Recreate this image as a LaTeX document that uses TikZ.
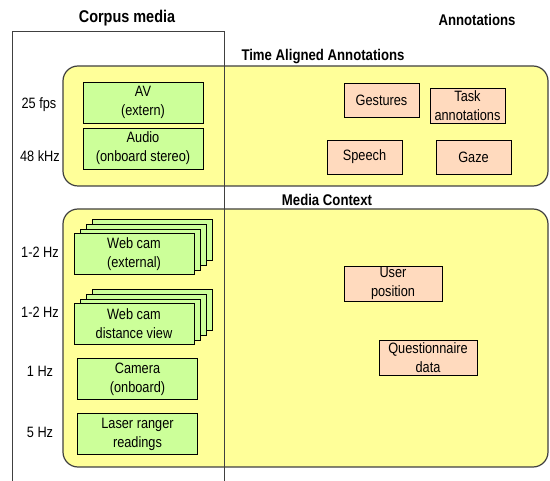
\documentclass[tikz,border=0pt]{standalone}
\usepackage{fontspec}
\setmainfont{Liberation Sans}[FakeStretch=0.85]
\usepackage{tikz}
\usetikzlibrary{positioning,shadows}
\definecolor{ctxyellow}{RGB}{255,255,153}
\definecolor{mediagreen}{RGB}{204,255,153}
\definecolor{annopeach}{RGB}{255,218,190}
\definecolor{framegrey}{RGB}{64,64,64}

\begin{document}
\begin{tikzpicture}[x=1pt,y=-1pt,
    txt/.style={font=\fontsize{15}{19}\selectfont, align=center, inner sep=0pt},
    head/.style={font=\fontsize{15.5}{19}\selectfont\bfseries, inner sep=0pt},
    context/.style={draw=framegrey, line width=1.2pt, fill=ctxyellow, rounded corners=15pt},
    media/.style={txt, draw=black, fill=mediagreen, minimum width=120pt, minimum height=41pt},
    stack/.style={media,
        copy shadow={shadow xshift=18pt, shadow yshift=14pt, draw=black, fill=mediagreen},
        copy shadow={shadow xshift=12pt, shadow yshift=9.3pt, draw=black, fill=mediagreen},
        copy shadow={shadow xshift=6pt, shadow yshift=4.7pt, draw=black, fill=mediagreen}},
    anno/.style={txt, draw=black, fill=annopeach, minimum width=75pt, minimum height=34pt},
]
\useasboundingbox (0,0) rectangle (550,481);
% headings
\node[head, font=\fontsize{17}{19}\selectfont\bfseries] (corpus) at (127,18) {Corpus media};
\node[head] (annotations) at (477,20) {Annotations};
\node[head] (timelabel) at (323,57) {Time Aligned Annotations};
\node[head] (ctxlabel) at (327,200) {Media Context};
% context areas
\draw[context] (63,66) rectangle (548,186);
\draw[context] (63,209) rectangle (548,467);
% corpus media frame
\draw[framegrey] (12,481) -- (12,31) -- (224,31) -- (224,481);
% time aligned media
\node[txt] (fps) at (39,105) {25 fps};
\node[txt] (khz) at (40,156) {48 kHz};
\node[media] (av) at (143,102.5) {AV\\(extern)};
\node[media] (audio) at (143,148.5) {Audio\\(onboard stereo)};
% context media
\node[txt] (rateext) at (40,252) {1-2 Hz};
\node[txt] (ratedist) at (40,312) {1-2 Hz};
\node[txt] (ratecam) at (40,371) {1 Hz};
\node[txt] (ratelaser) at (40,432) {5 Hz};
\node[stack] (webext) at (134,254) {Web cam\\(external)};
\node[stack] (webdist) at (134,324) {Web cam\\distance view};
\node[media] (camera) at (137.5,379) {Camera\\(onboard)};
\node[media] (laser) at (137.5,434) {Laser ranger\\readings};
% annotations
\node[anno] (gestures) at (381.5,100) {Gestures};
\node[anno, minimum height=35pt] (task) at (467.5,105.5) {Task\\annotations};
\node[anno] (speech) at (364.5,157) {Speech};
\node[anno] (gaze) at (473.5,157) {Gaze};
\node[anno, minimum width=98pt, minimum height=35pt] (userpos) at (393,283.5) {User\\position};
\node[anno, minimum width=98pt, minimum height=35pt] (quest) at (428,357.5) {Questionnaire\\data};
\end{tikzpicture}
\end{document}
